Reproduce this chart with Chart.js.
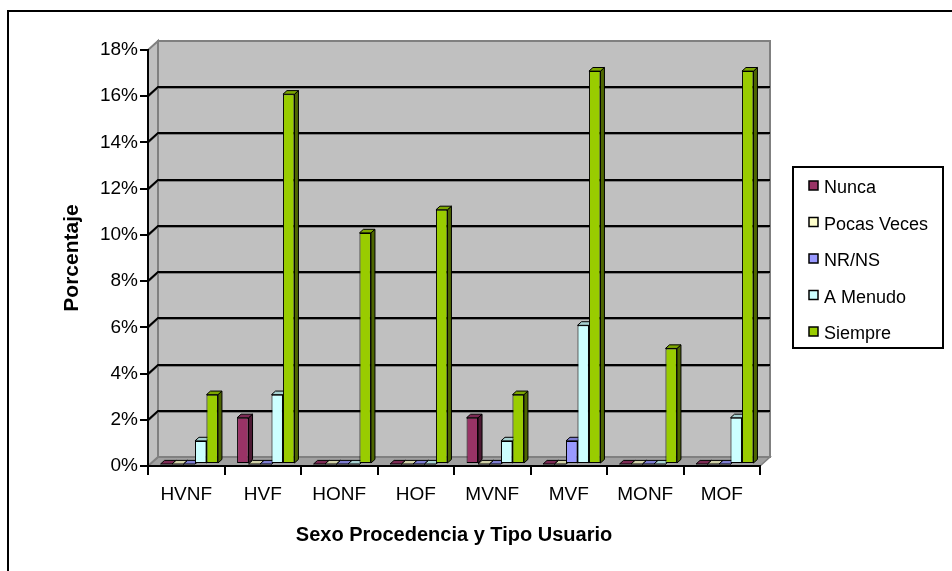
<!DOCTYPE html>
<html>
<head>
<meta charset="utf-8">
<script src="https://cdn.jsdelivr.net/npm/chart.js@4.4.1/dist/chart.umd.min.js"></script>
<style>
  html, body { margin: 0; padding: 0; background: #fff; }
  #wrap { width: 952px; height: 571px; }
</style>
</head>
<body>
<div id="wrap"><canvas id="c" width="952" height="571"></canvas></div>
<script>
// Survey answers (% of respondents) by sex, origin and user type
const categories = ['HVNF', 'HVF', 'HONF', 'HOF', 'MVNF', 'MVF', 'MONF', 'MOF'];
const nunca      = [0, 2, 0, 0, 2, 0, 0, 0];
const pocasVeces = [0, 0, 0, 0, 0, 0, 0, 0];
const nrNs       = [0, 0, 0, 0, 0, 1, 0, 0];
const aMenudo    = [1, 3, 0, 0, 1, 6, 0, 2];
const siempre    = [3, 16, 10, 11, 3, 17, 5, 17];
const seriesNames = ['Nunca', 'Pocas Veces', 'NR/NS', 'A Menudo', 'Siempre'];
const yTicks = [0, 2, 4, 6, 8, 10, 12, 14, 16, 18];

const seriesColors = ['#993366', '#FFFFCC', '#9999FF', '#CCFFFF', '#99CC00'];
const seriesValues = [nunca, pocasVeces, nrNs, aMenudo, siempre];

// pseudo-3D geometry (pixels)
const WALL = { dx: 10, dy: -9 };
const BAR_SHIFT = { dx: 3, dy: -2 };
const BAR_DEPTH = { dx: 4, dy: -3.6 };

function shade(hex, f) {
  const n = parseInt(hex.slice(1), 16);
  const r = Math.round(((n >> 16) & 255) * f);
  const g = Math.round(((n >> 8) & 255) * f);
  const b = Math.round((n & 255) * f);
  return `rgb(${r},${g},${b})`;
}

function poly(ctx, pts, fill, stroke, lw) {
  ctx.beginPath();
  ctx.moveTo(pts[0][0], pts[0][1]);
  for (let i = 1; i < pts.length; i++) ctx.lineTo(pts[i][0], pts[i][1]);
  ctx.closePath();
  if (fill) { ctx.fillStyle = fill; ctx.fill(); }
  if (stroke) { ctx.strokeStyle = stroke; ctx.lineWidth = lw || 1; ctx.stroke(); }
}

const scene3d = {
  id: 'scene3d',
  beforeDraw(chart) {
    const { ctx, chartArea: a, scales: { y } } = chart;
    const L = a.left, R = a.right, T = a.top, B = a.bottom;
    const dx = WALL.dx, dy = WALL.dy;
    ctx.save();
    ctx.fillStyle = '#fff';
    ctx.fillRect(0, 0, chart.width, chart.height);
    // outer frame
    ctx.strokeStyle = '#000';
    ctx.lineWidth = 2;
    ctx.strokeRect(8, 11, 2000, 2000);
    // floor, side wall, back wall
    poly(ctx, [[L, B], [L + dx, B + dy], [R + dx, B + dy], [R, B]], '#A0A0A0', '#808080', 1.5);
    poly(ctx, [[L, T], [L + dx, T + dy], [L + dx, B + dy], [L, B]], '#C0C0C0', '#808080', 2);
    poly(ctx, [[L + dx, T + dy], [R + dx, T + dy], [R + dx, B + dy], [L + dx, B + dy]], '#C0C0C0', '#808080', 2);
    // gridlines across side and back walls
    yTicks.slice(1, -1).forEach(v => {
      const py = Math.round(y.getPixelForValue(v));
      ctx.beginPath();
      ctx.moveTo(L, py + 1.5);
      ctx.lineTo(L + dx, py + dy + 1.5);
      ctx.lineTo(R + dx, py + dy + 1.5);
      ctx.strokeStyle = '#808080';
      ctx.lineWidth = 1;
      ctx.stroke();
      ctx.beginPath();
      ctx.moveTo(L, py);
      ctx.lineTo(L + dx, py + dy);
      ctx.lineTo(R + dx, py + dy);
      ctx.strokeStyle = '#000';
      ctx.lineWidth = 2;
      ctx.stroke();
    });
    ctx.restore();
  },
  beforeDatasetsDraw(chart) {
    const { ctx } = chart;
    ctx.save();
    ctx.translate(BAR_SHIFT.dx, BAR_SHIFT.dy);
    const bx = BAR_DEPTH.dx, by = BAR_DEPTH.dy;
    chart.data.datasets.forEach((ds, di) => {
      const meta = chart.getDatasetMeta(di);
      meta.data.forEach(el => {
        const { x, y, base, width } = el.getProps(['x', 'y', 'base', 'width'], true);
        const l = x - width / 2, r = x + width / 2;
        const t = Math.min(y, base), b = Math.max(y, base);
        const col = seriesColors[di];
        poly(ctx, [[r, t], [r + bx, t + by], [r + bx, b + by], [r, b]], shade(col, 0.5), '#000', 1);
        poly(ctx, [[l, t], [l + bx, t + by], [r + bx, t + by], [r, t]], shade(col, 0.82), '#000', 1);
      });
    });
    ctx.restore();
    // front faces are drawn by the bar controller in the same shifted frame
    ctx.save();
    ctx.translate(BAR_SHIFT.dx, BAR_SHIFT.dy);
  },
  afterDatasetsDraw(chart) {
    chart.ctx.restore();
  },
  afterDraw(chart) {
    // boxed legend on the right
    const { ctx } = chart;
    ctx.save();
    ctx.strokeStyle = '#000';
    ctx.lineWidth = 2;
    ctx.strokeRect(793, 167, 150, 181);
    ctx.font = '18px "Liberation Sans", Arial, sans-serif';
    ctx.textAlign = 'left';
    ctx.textBaseline = 'alphabetic';
    seriesNames.forEach((name, i) => {
      const base = 193 + i * 36.5;
      ctx.fillStyle = seriesColors[i];
      ctx.fillRect(809, base - 12, 9, 9);
      ctx.strokeStyle = '#000';
      ctx.lineWidth = 1.5;
      ctx.strokeRect(809, base - 12, 9, 9);
      ctx.fillStyle = '#000';
      ctx.fillText(name, 824, base);
    });
    ctx.restore();
  }
};

Chart.defaults.font.family = '"Liberation Sans", Arial, sans-serif';
Chart.defaults.color = '#000';

new Chart(document.getElementById('c'), {
  type: 'bar',
  data: {
    labels: categories,
    datasets: seriesNames.map((name, i) => ({
      label: name,
      data: seriesValues[i],
      backgroundColor: seriesColors[i],
      borderColor: '#000',
      borderWidth: 1,
      borderSkipped: false
    }))
  },
  options: {
    responsive: false,
    animation: false,
    devicePixelRatio: 1,
    layout: { padding: { left: 0, top: 50, right: 192, bottom: 0 } },
    plugins: { legend: { display: false }, tooltip: { enabled: false } },
    datasets: { bar: { categoryPercentage: 0.75, barPercentage: 1.0 } },
    scales: {
      x: {
        grid: { display: true, drawOnChartArea: false, drawTicks: true, tickLength: 9, color: '#000', lineWidth: 2, offset: true },
        border: { display: true, color: '#000', width: 2 },
        ticks: { font: { size: 19 }, padding: 8, maxRotation: 0 },
        title: { display: true, text: 'Sexo Procedencia y Tipo Usuario', font: { size: 20, weight: 'bold' }, padding: { top: 0, bottom: 24 } },
        afterFit(s) { s.height = 105; }
      },
      y: {
        min: 0,
        max: 18,
        afterBuildTicks(s) { s.ticks = yTicks.map(v => ({ value: v })); },
        grid: { display: true, drawOnChartArea: false, drawTicks: true, tickLength: 8, color: '#000', lineWidth: 2 },
        border: { display: true, color: '#000', width: 2 },
        ticks: { font: { size: 19 }, padding: 2, callback: v => v + '%' },
        title: { display: true, text: 'Porcentaje', font: { size: 21, weight: 'bold' }, padding: { top: 60, bottom: 0 } },
        afterFit(s) { s.width = 148; }
      }
    }
  },
  plugins: [scene3d]
});
</script>
</body>
</html>
